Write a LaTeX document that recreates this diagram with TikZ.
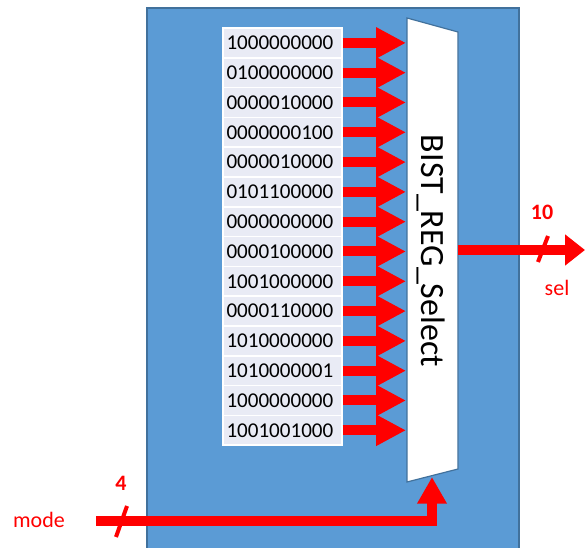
\documentclass[tikz,border=0pt]{standalone}
\usepackage{fontspec}
\setmainfont{Carlito}
\usetikzlibrary{arrows.meta,positioning}
\definecolor{blockblue}{HTML}{5B9BD5}
\definecolor{blockedge}{HTML}{41719C}
\definecolor{rowfill}{HTML}{E9EBF5}
\definecolor{sigred}{HTML}{FF0000}

\begin{document}
\begin{tikzpicture}[
    x=0.75pt, y=-0.75pt,
    row/.style={rectangle, fill=rowfill, draw=white, line width=1.2pt, text width=84pt, inner xsep=2.5pt, inner ysep=0pt, minimum height=22.35pt, align=left, font=\fontsize{15.8}{18}\selectfont},
    bus/.style={draw=sigred, line width=7.5pt},
    inarrow/.style={bus, -{Triangle[length=22.5pt, width=22pt]}},
    slash/.style={draw=sigred, line width=3pt},
    siglabel/.style={text=sigred, font=\fontsize{16.5}{19}\selectfont}
]
    \useasboundingbox (0,0) rectangle (586,548);

    % Block
    \fill[blockblue] (147,8) rectangle (519,560);
    \draw[blockedge, line width=1.2pt] (147,560) |- (519,8) -- (519,560);

    % Mux
    \draw[blockedge, fill=white, line width=0.9pt] (407,18) -- (458,32) -- (458,469) -- (407,482) -- cycle;
    \node[rotate=-90, font=\fontsize{25.5}{30}\selectfont] (mux) at (431,251) {BIST\_REG\_Select};
    \coordinate (muxin) at (406,0);
    \coordinate (muxout) at (458,250);
    \coordinate (muxsel) at (432,477);

    % Register values
    \foreach \val [count=\i] in {1000000000,0100000000,0000010000,0000000100,0000010000,0101100000,0000000000,0000100000,1001000000,0000110000,1010000000,1010000001,1000000000,1001001000}
    {
        \node[row] (r\i) at (282.5,{28+(\i-0.5)*29.8}) {\val};
        \draw[inarrow] (r\i.east) -- (r\i.east -| muxin);
    }

    % Output
    \coordinate (selend) at (585,250);
    \draw[bus, -{Triangle[length=15pt, width=22.5pt]}] (muxout) -- (selend);
    \draw[slash] (538,262) -- (548,236);
    \node[siglabel, font=\bfseries\fontsize{16.5}{19}\selectfont] (selw) at (542,212) {10};
    \node[siglabel] (sellbl) at (557,288) {sel};

    % Mode input
    \coordinate (modein) at (96,521);
    \draw[bus, -{Triangle[length=20pt, width=21pt]}] (modein) -| (muxsel);
    \draw[slash] (116,537) -- (127,506);
    \node[siglabel, font=\bfseries\fontsize{16.5}{19}\selectfont] (modew) at (121,483) {4};
    \node[siglabel] (modelbl) at (39,520) {mode};
\end{tikzpicture}
\end{document}
